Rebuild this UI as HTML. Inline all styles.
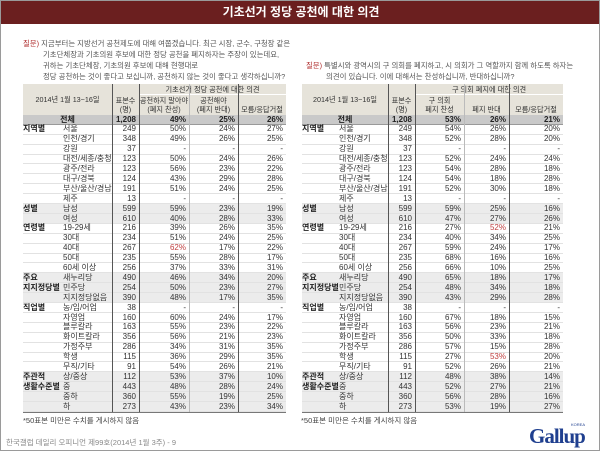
<!DOCTYPE html>
<html><head><meta charset="utf-8">
<style>
body{margin:0;width:600px;height:451px;overflow:hidden;background:#fff;font-family:"Liberation Sans","Noto Sans CJK KR",sans-serif;}
#page{position:absolute;left:0;top:0;width:598px;height:449px;border:1px solid #9a9a9a;overflow:hidden;}
.abs{position:absolute;white-space:nowrap;}
.hdr{left:0;top:0;width:600px;height:23px;background:#6b1f1f;color:#fff;font-weight:bold;font-size:12px;line-height:23px;text-align:center;}
.q{font-size:7.4px;color:#555;line-height:11px;}
.q b{color:#b03030;font-weight:normal;}
.t{font-size:8px;color:#333;line-height:10px;}
.th{font-size:7.2px;color:#333;line-height:9px;}
.grp{font-weight:bold;color:#222;}
</style></head>
<body>
<div id="page">
<div class="abs hdr">기초선거 정당 공천에 대한 의견</div>
<div class="abs q" style="left:22px;top:37px;"><b>질문)</b> 지금부터는 지방선거 공천제도에 대해 여쭙겠습니다. 최근 시장, 군수, 구청장 같은<br><span style="padding-left:20px">기초단체장과 기초의원 후보에 대한 정당 공천을 폐지하자는 주장이 있는데요,</span><br><span style="padding-left:20px">귀하는 기초단체장, 기초의원 후보에 대해 현행대로</span><br><span style="padding-left:20px">정당 공천하는 것이 좋다고 보십니까, 공천하지 않는 것이 좋다고 생각하십니까?</span></div>
<div class="abs q" style="left:305px;top:59px;"><b>질문)</b> 특별시와 광역시의 구 의회를 폐지하고, 시 의회가 그 역할까지 함께 하도록 하자는<br><span style="padding-left:20px">의견이 있습니다. 이에 대해서는 찬성하십니까, 반대하십니까?</span></div>
<div id="tables"></div>
<div class="abs" style="left:22px;top:414px;font-size:7.5px;color:#444;">*50표본 미만은 수치를 게시하지 않음</div>
<div class="abs" style="left:300px;top:414px;font-size:7.5px;color:#444;">*50표본 미만은 수치를 게시하지 않음</div>
<div class="abs" style="left:5px;top:436px;font-size:7.5px;color:#888;">한국갤럽 데일리 오피니언 제99호(2014년 1월 3주) - 9</div>
<div class="abs" style="left:528px;top:423px;font-size:21px;font-weight:bold;color:#1f3f8f;font-family:'Liberation Serif',serif;letter-spacing:-1px;">Gallup</div>
<div class="abs" style="left:570px;top:421px;font-size:4px;color:#1f3f8f;">KOREA</div>
</div>
<script>
const groups=[["지역별",0],["성별",8],["연령별",10],["주요<br>지지정당별",15],["직업별",18],["주관적<br>생활수준별",25]];
const labels=["서울","인천/경기","강원","대전/세종/충청","광주/전라","대구/경북","부산/울산/경남","제주","남성","여성","19-29세","30대","40대","50대","60세 이상","새누리당","민주당","지지정당없음","농/임/어업","자영업","블루칼라","화이트칼라","가정주부","학생","무직/기타","상/중상","중","중하","하"];
const sizes=["1,208","249","348","37","123","123","124","191","13","599","610","216","234","267","235","256","490","254","390","38","160","163","356","286","115","91","112","443","360","273"];
const shaded=[8,9,15,16,17,25,26,27,28];
const leftA=[49,50,49,null,50,56,43,51,null,59,40,39,51,62,55,37,46,50,48,null,60,55,56,34,36,54,53,48,55,43];
const leftB=[25,24,26,null,24,23,29,24,null,23,28,26,24,17,28,33,34,23,17,null,24,23,21,31,29,26,37,28,19,23];
const leftC=[26,27,25,null,26,22,28,25,null,19,33,35,25,22,17,31,20,27,35,null,17,22,23,35,35,21,10,24,25,34];
const rightA=[53,54,52,null,52,54,54,52,null,59,47,27,40,59,68,66,65,48,43,null,67,56,50,57,27,52,48,52,56,53];
const rightB=[26,26,28,null,24,28,18,30,null,25,27,52,34,24,16,10,18,34,29,null,18,23,33,15,53,26,38,27,28,19];
const rightC=[21,20,20,null,24,18,28,18,null,16,26,21,25,17,16,25,17,18,28,null,15,21,18,28,20,21,14,21,16,27];
const leftRed=[[0,13]];const rightRed=[[1,11],[1,24]];
const leftHead=["기초선거 정당 공천에 대한 의견","공천하지 말아야<br>(폐지 찬성)","공천해야<br>(폐지 반대)","모름/응답거절"];
const rightHead=["구 의회 폐지에 대한 의견","구 의회<br>폐지 찬성","폐지 반대","모름/응답거절"];
const ROW0=114,RH=9.9;
function rowTop(i){return ROW0+i*RH;}
function mk(cls,css,html){const d=document.createElement('div');d.className='abs '+cls;d.style.cssText=css;d.innerHTML=html;document.getElementById('tables').appendChild(d);return d;}
function table(side,L,sub,N,c1,c2,c3,R,head,vals,red){
  let h=mk('','left:'+L+'px;top:83px;width:'+(R-L)+'px;height:31px;background:#e6e3da;','');
  
  
  let ht=mk('th','left:'+L+'px;top:94px;width:'+(N-L)+'px;text-align:center;','2014년 1월 13~16일');
  
  
  let hn=mk('th','left:'+N+'px;top:95px;width:'+(c1-N)+'px;text-align:center;','표본수<br>(명)');
  
  
  let hg=mk('th','left:'+c1+'px;top:84px;width:'+(R-c1)+'px;height:9px;text-align:center;border-bottom:1px solid #fff;',head[0]);
  
  
  const cols=[c1,c2,c3,R];
  for(let k=0;k<3;k++){
    const two=head[k+1].indexOf('<br>')>=0;
    let c=mk('th','left:'+cols[k]+'px;top:'+(two?95:104)+'px;width:'+(cols[k+1]-cols[k])+'px;text-align:center;',head[k+1]);
    
    
  }
  for(let i=0;i<30;i++){
    let bg=i===0?'#c9c9c9':(shaded.indexOf(i-1)>=0?'#ececec':'transparent');
    let r=mk('','left:'+L+'px;top:'+rowTop(i)+'px;width:'+(R-L)+'px;height:'+RH+'px;background:'+bg+';border-bottom:1px solid '+(i===0?'#999':'#e2e2e2')+';box-sizing:border-box;','');
    
    
    let lb=mk('t'+(i===0?' grp':''),'left:'+(i===0?L:sub)+'px;top:'+(rowTop(i)-0.5)+'px;'+(i===0?'width:'+(N-L)+'px;text-align:center;':''),i===0?'전체':labels[i-1]);
    
    
    let n=mk('t'+(i===0?' grp':''),'left:'+N+'px;top:'+(rowTop(i)-0.5)+'px;width:'+(c1-N-3)+'px;text-align:right;',sizes[i]);
    
    
    for(let k=0;k<3;k++){
      const v=vals[k][i];
      const isRed=red.some(p=>p[0]===k&&p[1]===i);
      let c=mk('t'+(i===0?' grp':''),'left:'+cols[k]+'px;top:'+(rowTop(i)-0.5)+'px;width:'+(cols[k+1]-cols[k]-3)+'px;text-align:right;'+(isRed?'color:#c04040;':''),v===null?'-':v+'%');
      
      
    }
  }
  for(const g of groups){
    let gl=mk('t grp','left:'+L+'px;top:'+(rowTop(g[1]+1)-0.5)+'px;',g[0]);
    
    
  }
  const vl=[[N,'#555'],[c1,'#555'],[c2,'#bbb'],[c3,'#555']];
  for(const v of vl){
    let l=mk('','left:'+v[0]+'px;top:83px;width:1px;height:'+(rowTop(30)-83)+'px;background:'+v[1]+';','');
    
    
  }
  let bl=mk('','left:'+L+'px;top:'+rowTop(30)+'px;width:'+(R-L)+'px;height:1px;background:#777;','');
  
  
}
table('left',22,62,111,138,188,237,285,leftHead,[leftA,leftB,leftC],leftRed);
table('right',301,338,387,414,463,508,562,rightHead,[rightA,rightB,rightC],rightRed);
</script>
</body></html>
